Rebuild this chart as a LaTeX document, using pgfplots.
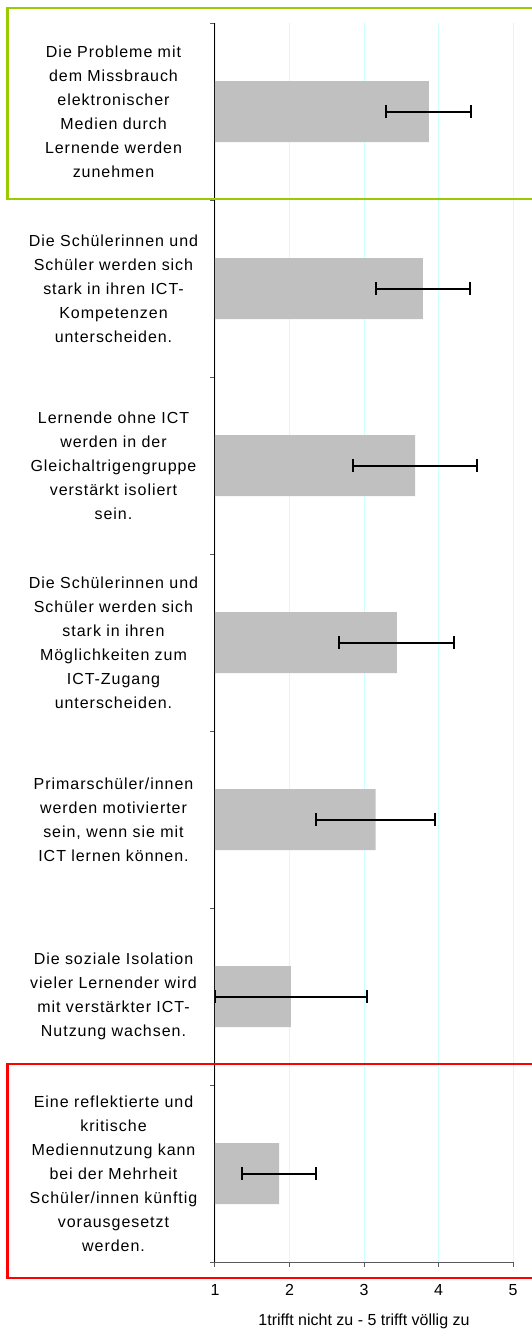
\documentclass[border=0pt]{standalone}
\usepackage{pgfplots}
\pgfplotsset{compat=1.18}
\usepackage{fontspec}
\setmainfont{Liberation Sans}
\definecolor{barg}{RGB}{192,192,192}
\definecolor{gridc}{RGB}{204,255,255}
\definecolor{boxgreen}{RGB}{153,204,0}
\definecolor{axgray}{RGB}{90,90,90}
\begin{document}
\begin{tikzpicture}
\useasboundingbox (0pt,0pt) rectangle (531pt,1331pt);
\begin{axis}[
  at={(215pt,69pt)}, anchor=south west,
  scale only axis, width=298pt, height=1239pt,
  xmin=1, xmax=5, ymin=0.5, ymax=7.5,
  axis x line*=bottom, axis y line*=left,
  axis line style={-},
  x axis line style={axgray, line width=1pt},
  y axis line style={black, line width=1pt},
  xtick={1,2,3,4,5},
  ytick={1,2,3,4,5,6,7},
  minor ytick={0.5,1.5,2.5,3.5,4.5,5.5,6.5,7.5},
  tick align=outside,
  major tick length=5pt, minor tick length=5pt,
  major y tick style={draw=none},
  minor y tick style={draw=axgray, line width=1pt},
  major x tick style={draw=axgray, line width=1pt},
  xmajorgrids, grid style={gridc, line width=0.8pt},
  /pgf/number format/assume math mode=true,
  tick label style={font=\fontsize{16}{19}\selectfont},
  xticklabel style={yshift=-14pt},
  yticklabel style={font=\fontsize{16}{24}\selectfont\addfontfeature{LetterSpace=6}, text width=190pt, align=center, anchor=center, xshift=-96.5pt, inner sep=0pt},
  yticklabels={
    {Eine reflektierte und\\kritische\\Mediennutzung kann\\bei der Mehrheit\\Schüler/innen künftig\\vorausgesetzt\\werden.},
    {Die soziale Isolation\\vieler Lernender wird\\mit verstärkter ICT-\\Nutzung wachsen.},
    {Primarschüler/innen\\werden motivierter\\sein, wenn sie mit\\ICT lernen können.},
    {Die Schülerinnen und\\Schüler werden sich\\stark in ihren\\Möglichkeiten zum\\ICT-Zugang\\unterscheiden.},
    {Lernende ohne ICT\\werden in der\\Gleichaltrigengruppe\\verstärkt isoliert\\sein.},
    {Die Schülerinnen und\\Schüler werden sich\\stark in ihren ICT-\\Kompetenzen\\unterscheiden.},
    {Die Probleme mit\\dem Missbrauch\\elektronischer\\Medien durch\\Lernende werden\\zunehmen}
  },
  xlabel={1trifft nicht zu - 5 trifft völlig zu},
  xlabel style={at={(axis description cs:0.5,0)}, anchor=center, yshift=-59pt, font=\fontsize{16}{19}\selectfont},
  xbar, bar width=61pt,
  clip=true,
]
\addplot[fill=barg, draw=none,
  error bars/.cd, x dir=both, x explicit,
  error mark=|,
  error bar style={draw=black, line width=2pt},
  error mark options={draw=black, line width=2pt, mark size=6.5pt}]
coordinates {
  (1.86,1) +- (0.50,0)
  (2.02,2) +- (1.02,0)
  (3.155,3) +- (0.795,0)
  (3.44,4) +- (0.77,0)
  (3.685,5) +- (0.835,0)
  (3.79,6) +- (0.63,0)
  (3.87,7) +- (0.57,0)
};
\end{axis}
\draw[boxgreen, line width=2.5pt] (7.5pt,1323pt) rectangle (545pt,1132pt);
\draw[red, line width=2.5pt] (7.5pt,267pt) rectangle (545pt,53pt);
\end{tikzpicture}
\end{document}
